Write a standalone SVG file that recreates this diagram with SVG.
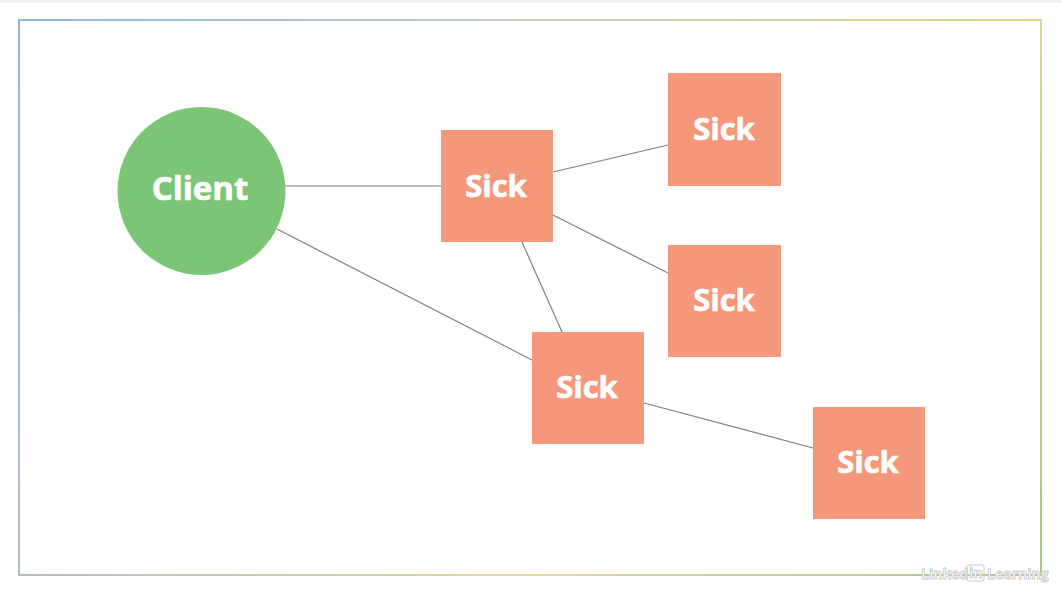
<svg xmlns="http://www.w3.org/2000/svg" width="1062" height="598" viewBox="0 0 1062 598">
<style>
.sick{fill:#f4977a}
.lbl{font-family:"Open Sans","Liberation Sans",sans-serif;font-weight:bold;fill:#ffffff;stroke:#ffffff;stroke-width:0.7;text-anchor:middle}
.edge{stroke:#7f7f7f;stroke-width:1.2;fill:none}
.wm{font-family:"Open Sans","Liberation Sans",sans-serif;font-weight:bold;font-size:14px;fill:#ffffff;stroke:#c8c8c8;stroke-width:0.8}
</style>
<defs>
<linearGradient id="gTop" gradientUnits="userSpaceOnUse" x1="19" y1="0" x2="1041" y2="0"><stop offset="0" stop-color="#8fb8dc"/><stop offset="0.5" stop-color="#c8cfc0"/><stop offset="1" stop-color="#e6d48a"/></linearGradient>
<linearGradient id="gRight" gradientUnits="userSpaceOnUse" x1="0" y1="20" x2="0" y2="575"><stop offset="0" stop-color="#dcd496"/><stop offset="1" stop-color="#a8c884"/></linearGradient>
<linearGradient id="gBot" gradientUnits="userSpaceOnUse" x1="19" y1="0" x2="1041" y2="0"><stop offset="0" stop-color="#b4bcc4"/><stop offset="0.5" stop-color="#e0dc98"/><stop offset="1" stop-color="#a8c884"/></linearGradient>
<linearGradient id="gLeft" gradientUnits="userSpaceOnUse" x1="0" y1="20" x2="0" y2="575"><stop offset="0" stop-color="#8fb8dc"/><stop offset="1" stop-color="#b4bcc4"/></linearGradient>
</defs>
<rect x="0" y="0" width="1062" height="598" fill="#ffffff"/>
<rect x="0" y="0" width="1062" height="3" fill="#efefef"/>
<g id="frame" stroke-width="2" fill="none">
<line x1="18" y1="20" x2="1042" y2="20" stroke="url(#gTop)"/>
<line x1="1041" y1="19" x2="1041" y2="576" stroke="url(#gRight)"/>
<line x1="18" y1="575" x2="1042" y2="575" stroke="url(#gBot)"/>
<line x1="19" y1="19" x2="19" y2="576" stroke="url(#gLeft)"/>
</g>
<g id="connectors">
<line class="edge" x1="285" y1="186" x2="441" y2="186"/>
<line class="edge" x1="277" y1="229" x2="532" y2="360"/>
<line class="edge" x1="553" y1="172" x2="668" y2="145"/>
<line class="edge" x1="553" y1="215" x2="668" y2="273"/>
<line class="edge" x1="522" y1="242" x2="562" y2="332"/>
<line class="edge" x1="644" y1="403" x2="813" y2="448"/>
</g>
<g id="client">
<circle cx="201.5" cy="191" r="84" fill="#7cc576"/>
<text class="lbl" x="200" y="200" font-size="33">Client</text>
</g>
<g id="sick1">
<rect class="sick" x="441" y="130" width="112" height="112"/>
<text class="lbl" x="496" y="197" font-size="31">Sick</text>
</g>
<g id="sick2">
<rect class="sick" x="668" y="73" width="113" height="113"/>
<text class="lbl" x="724" y="140" font-size="31">Sick</text>
</g>
<g id="sick3">
<rect class="sick" x="668" y="245" width="113" height="112"/>
<text class="lbl" x="724" y="311" font-size="31">Sick</text>
</g>
<g id="sick4">
<rect class="sick" x="532" y="332" width="112" height="112"/>
<text class="lbl" x="587" y="398" font-size="31">Sick</text>
</g>
<g id="sick5">
<rect class="sick" x="813" y="407" width="112" height="112"/>
<text class="lbl" x="868" y="473" font-size="31">Sick</text>
</g>
<g id="watermark">
<text class="wm" x="921" y="579">Linked</text>
<rect x="967" y="565" width="17" height="16" rx="2" fill="none" stroke="#c8c8c8" stroke-width="1"/>
<text class="wm" x="969" y="578" font-size="12">in</text>
<text class="wm" x="987" y="579">Learning</text>
</g>
</svg>
